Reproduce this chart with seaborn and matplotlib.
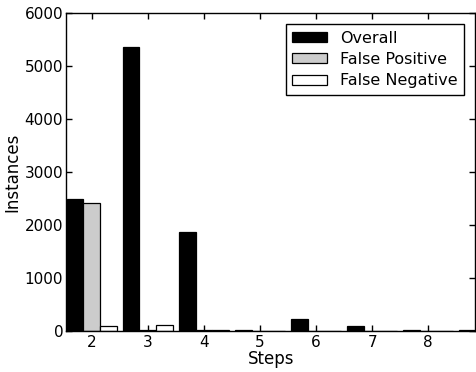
import matplotlib
matplotlib.use("Agg")
import matplotlib.pyplot as plt
import seaborn as sns
import pandas as pd

steps = [2, 3, 4, 5, 6, 7, 8, 9]
overall = [2480, 5358, 1855, 5, 222, 90, 5, 5]
false_positive = [2415, 20, 5, 3, 3, 3, 3, 3]
false_negative = [80, 110, 5, 3, 3, 3, 3, 3]
series_names = ["Overall", "False Positive", "False Negative"]
xtick_labels = ["2", "3", "4", "5", "6", "7", "8"]
yticks = [0, 1000, 2000, 3000, 4000, 5000, 6000]

rows = []
for name, vals in zip(series_names, [overall, false_positive, false_negative]):
    for s, v in zip(steps, vals):
        rows.append({"Steps": s, "Instances": v, "series": name})
df = pd.DataFrame(rows)

sns.set_style("ticks")
plt.rcParams["font.family"] = ["DejaVu Sans"]
plt.rcParams["text.color"] = "black"
plt.rcParams["axes.labelcolor"] = "black"
plt.rcParams["xtick.color"] = "black"
plt.rcParams["ytick.color"] = "black"

fig = plt.figure(figsize=(4.76, 3.72), dpi=100)
ax = fig.add_axes([66 / 476, 1 - 330.7 / 372, (475.3 - 66) / 476, (330.7 - 13) / 372])

sns.barplot(data=df, x="Steps", y="Instances", hue="series", hue_order=series_names,
            native_scale=True, width=0.9, palette=["black", "#cccccc", "white"],
            edgecolor="black", linewidth=0.9, ax=ax, errorbar=None, saturation=1)

ax.set_xlim(1.54, 8.84)
ax.set_ylim(0, 6000)
ax.set_xticks([int(t) for t in xtick_labels])
ax.set_xticklabels(xtick_labels)
ax.set_yticks(yticks)
ax.tick_params(direction="in", length=4, width=1, top=True, right=True, labelsize=11,
               color="black", labelcolor="black")
ax.tick_params(axis="x", pad=3)
ax.tick_params(axis="y", pad=2)
for sp in ax.spines.values():
    sp.set_visible(True)
    sp.set_color("black")
    sp.set_linewidth(1.0)
ax.set_xlabel("Steps", fontsize=12, labelpad=0, color="black")
ax.set_ylabel("Instances", fontsize=12, labelpad=2, color="black")

leg = ax.legend(loc="upper right", fontsize=11.5, frameon=True, fancybox=False,
                framealpha=1, edgecolor="black", borderaxespad=0.7,
                handlelength=2.2, handleheight=0.6, labelspacing=0.4, handletextpad=0.8)
leg.get_frame().set_linewidth(1.0)
for t in leg.get_texts():
    t.set_color("black")

fig.savefig("out.png", dpi=100)
